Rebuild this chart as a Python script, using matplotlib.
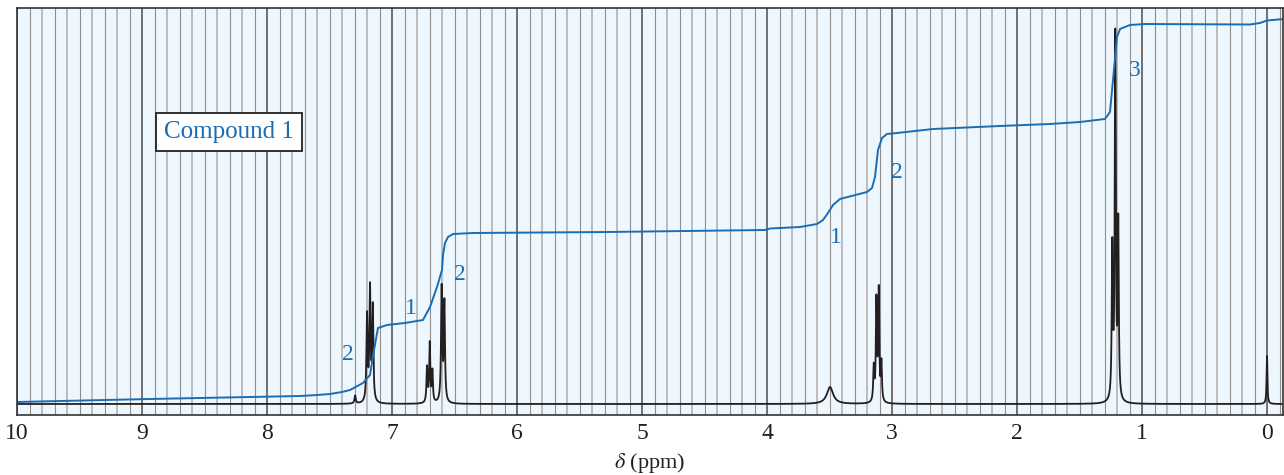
"""
Proton NMR spectrum of Compound 1 with its integral trace.
"""
import numpy as np
import matplotlib
matplotlib.use("Agg")
import matplotlib.pyplot as plt

plt.rcParams["font.family"] = ["Liberation Serif", "DejaVu Serif"]
plt.rcParams["mathtext.fontset"] = "stix"

# peak list: shift (ppm), height, half width (ppm)
peak_ppm = [7.295,
            7.200, 7.176, 7.154,
            6.720, 6.698, 6.677,
            6.603, 6.581,
            3.496,
            3.146, 3.125, 3.106, 3.085,
            1.238, 1.214, 1.190,
            0.000]
peak_height = [8,
               86, 112, 94,
               35, 59, 31,
               114, 99,
               17,
               34, 100, 110, 38,
               150, 362, 174,
               48]
peak_hwhm = [0.006,
             0.0055, 0.0055, 0.0055,
             0.005, 0.005, 0.005,
             0.0055, 0.0055,
             0.03,
             0.005, 0.005, 0.005, 0.005,
             0.005, 0.005, 0.005,
             0.004]

# integral trace
integral_ppm = [10.0, 8.936, 7.736, 7.60, 7.496, 7.40, 7.336, 7.232, 7.176, 7.144,
                7.112, 7.040, 6.896, 6.752, 6.696, 6.640, 6.600, 6.592, 6.576,
                6.552, 6.512, 6.352, 5.280, 4.016, 3.976, 3.736, 3.600, 3.552,
                3.512, 3.472, 3.416, 3.200, 3.160, 3.136, 3.112, 3.080, 3.040,
                2.960, 2.672, 2.136, 1.736, 1.496, 1.296, 1.256, 1.232, 1.200,
                1.176, 1.096, 0.976, 0.136, 0.056, 0.000, -0.136]
integral_height = [2, 5, 8, 9, 10, 12, 14, 21, 29, 54,
                   76, 79, 81, 84, 97, 117, 134, 149, 161,
                   167, 170, 171, 172, 174, 175.5, 177, 180, 184,
                   191, 199, 205, 212, 216, 227, 254, 266, 270,
                   271, 275, 278, 280, 282, 285, 292, 324, 367,
                   375, 379, 380, 379.5, 381, 383.5, 385]

# integration numbers
label_text = ["2", "1", "2", "1", "2", "3"]
label_ppm = [7.352, 6.848, 6.456, 3.448, 2.960, 1.056]
label_height = [50, 96, 130, 167, 232, 334]

tick_ppm = list(range(10, -1, -1))

BLUE = "#1a6db5"
INK = "#231f20"

fig = plt.figure(figsize=(12.84, 4.75), dpi=100)
ax = fig.add_axes([17 / 1284, 60 / 475, 1266 / 1284, 407 / 475])
ax.set_facecolor("#eef7fd")

# chart-paper grid, one line every 0.1 ppm
for i in range(-1, 101):
    v = i / 10
    if i % 10 == 0:
        ax.axvline(v, color="#707070", lw=1.4, zorder=1)
    elif i % 2:
        ax.axvline(v, color="#8e8e8e", lw=0.8, zorder=1)
    else:
        ax.axvline(v, color="#bcbcbc", lw=1.4, zorder=1)

x = np.linspace(10.0, -0.14, 40000)
spec = np.zeros_like(x)
for c, h, w in zip(peak_ppm, peak_height, peak_hwhm):
    spec += h * w**2 / ((x - c) ** 2 + w**2)

ax.plot(x, spec, color=INK, lw=1.3, zorder=3)
ax.plot(integral_ppm, integral_height, color=BLUE, lw=1.4, zorder=4)

for t, p, h in zip(label_text, label_ppm, label_height):
    ax.text(p, h, t, color=BLUE, fontsize=17, ha="center", va="center", zorder=5)

ax.text(8.304, 272, "Compound 1", color=BLUE, fontsize=18, ha="center", va="center",
        zorder=5,
        bbox=dict(boxstyle="square,pad=0.32", fc="white", ec="#222222", lw=1.3))

ax.set_xlim(10.0, -0.128)
ax.set_ylim(-11, 396)
ax.set_xticks(tick_ppm)
ax.set_xticklabels([str(t) for t in tick_ppm], fontsize=17, color=INK)
ax.tick_params(axis="x", length=0, pad=6)
ax.set_yticks([])
ax.set_xlabel("$\\delta$ (ppm)", fontsize=16, labelpad=5, color=INK)

for s in ax.spines.values():
    s.set_color("#333333")
    s.set_linewidth(1.2)
    s.set_zorder(6)

fig.savefig("out.png", dpi=100)
